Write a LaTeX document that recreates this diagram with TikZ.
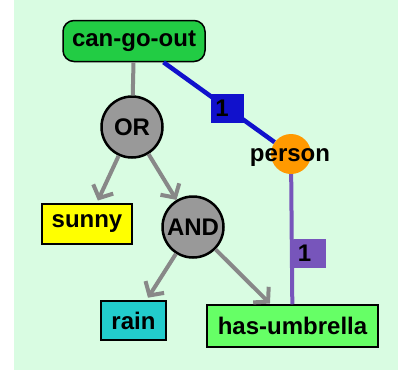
\documentclass[tikz,border=0pt]{standalone}
\usepackage{fontspec}
\setmainfont{Liberation Sans}
\usetikzlibrary{arrows.meta,positioning}

\definecolor{mintbg}{RGB}{217,252,226}
\definecolor{goalgreen}{RGB}{34,204,68}
\definecolor{factyellow}{RGB}{255,255,0}
\definecolor{factcyan}{RGB}{34,204,204}
\definecolor{factgreen}{RGB}{102,255,102}
\definecolor{gategray}{RGB}{153,153,153}
\definecolor{argorange}{RGB}{255,153,0}
\definecolor{linkblue}{RGB}{17,17,204}
\definecolor{linkpurple}{RGB}{119,85,187}
\definecolor{edgegray}{RGB}{136,136,136}

\begin{document}
\begin{tikzpicture}[x=1pt, y=-1pt,
    every node/.style={font=\fontsize{24}{28}\selectfont\bfseries, inner sep=0pt},
    fact/.style={draw, line width=1.5pt, minimum height=40pt},
    gate/.style={circle, draw, line width=2.5pt, fill=gategray, minimum size=61pt},
    edge/.style={draw=edgegray, line width=4pt},
    implies/.style={edge, -{Straight Barb[length=10pt, width=22pt]}},
    tag/.style={text=black, minimum height=29pt, text width=25pt, inner xsep=4pt, align=left}]
    % Background
    \fill[mintbg] (14,0) rectangle (398,370);
    \useasboundingbox (0,0) rectangle (398,372);

    % Goal and gates
    \node[fact, rounded corners=11pt, fill=goalgreen, minimum width=142pt, minimum height=41pt] (cango) at (134,41) {can-go-out};
    \node[gate] (or) at (132,127) {OR};
    \node[gate] (and) at (193,227) {AND};

    % Facts
    \node[fact, fill=factyellow, minimum width=90pt] (sunny) at (87,224) {sunny};
    \node[fact, fill=factcyan, minimum width=65pt, minimum height=39pt] (rain) at (133.5,320.5) {rain};
    \node[fact, fill=factgreen, minimum width=171pt, minimum height=42pt] (umb) at (292.5,326) {has-umbrella};

    % Argument
    \node[circle, fill=argorange, minimum size=40pt] (person) at (291,154) {};

    % Arrows
    \draw[edge] (cango) -- (or);
    \draw[implies, shorten >=3pt] (or) -- (sunny);
    \draw[implies] (or) -- (and);
    \draw[implies, shorten >=3pt] (and) -- (rain);
    \draw[implies, shorten >=1pt] (and) -- (umb);

    % Argument links
    \draw[linkblue, line width=4.5pt] (cango) -- node[tag, fill=linkblue, pos=0.58] {1} (person);
    \draw[linkpurple, line width=4pt] (person) -- node[tag, fill=linkpurple, pos=0.61, anchor=west, text width=24pt] {1} (umb);
    \node (personname) at (290,158) {person};
\end{tikzpicture}
\end{document}
